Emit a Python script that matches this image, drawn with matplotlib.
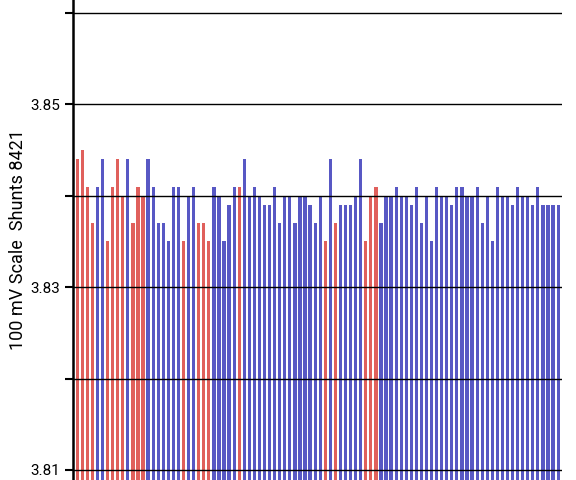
import matplotlib
matplotlib.use("Agg")
import matplotlib.pyplot as plt

plt.rcParams["font.family"] = ["Roboto", "DejaVu Sans"]

# cell voltages (V)
voltages = [
    3.844, 3.845, 3.841, 3.837, 3.841, 3.844, 3.835, 3.841, 3.844, 3.840,
    3.844, 3.837, 3.841, 3.840, 3.844, 3.841, 3.837, 3.837, 3.835, 3.841,
    3.841, 3.835, 3.840, 3.841, 3.837, 3.837, 3.835, 3.841, 3.840, 3.835,
    3.839, 3.841, 3.841, 3.844, 3.840, 3.841, 3.840, 3.839, 3.839, 3.841,
    3.837, 3.840, 3.840, 3.837, 3.840, 3.840, 3.839, 3.837,
    3.840, 3.835, 3.844, 3.837, 3.839, 3.839, 3.839, 3.840, 3.844, 3.835,
    3.840, 3.841, 3.837, 3.840, 3.840, 3.841, 3.840, 3.840, 3.839, 3.841,
    3.837, 3.840, 3.835, 3.841, 3.840, 3.840, 3.839, 3.841, 3.841, 3.840,
    3.840, 3.841, 3.837, 3.840, 3.835, 3.841, 3.840, 3.840, 3.839, 3.841,
    3.840, 3.840, 3.839, 3.841, 3.839, 3.839, 3.839, 3.839,
]
# cells flagged as shunting (drawn red)
shunting = {0, 1, 2, 3, 6, 7, 8, 9, 11, 12, 13, 21, 24, 25, 26, 32,
            49, 51, 57, 58, 59}

RED = "#e0605c"
BLUE = "#5858c4"
ymin, ymax = 3.8089, 3.8614

fig = plt.figure(figsize=(5.76, 4.8), dpi=100)
ax = fig.add_axes([0.127, 0.0, 0.849, 1.0])

x = range(len(voltages))
colors = [RED if i in shunting else BLUE for i in x]
heights = [v - ymin for v in voltages]
ax.bar(x, heights, bottom=ymin, width=0.64, color=colors, zorder=2)

ax.set_ylim(ymin, ymax)
ax.set_xlim(-0.8, len(voltages) - 0.2)
ticks = [3.81, 3.82, 3.83, 3.84, 3.85, 3.86]
ax.set_yticks(ticks, ["3.81", "", "3.83", "", "3.85", ""])
ax.tick_params(axis="y", length=6, width=1.5, labelsize=11)
ax.tick_params(axis="x", bottom=False, labelbottom=False)
for t in ticks:
    ax.axhline(t, color="black", linewidth=1, zorder=3)
for s in ("top", "right", "bottom"):
    ax.spines[s].set_visible(False)
ax.spines["left"].set_linewidth(1.8)
ax.set_ylabel("100 mV Scale  Shunts 8421", fontsize=13, labelpad=2)

fig.savefig("out.png", dpi=100)
